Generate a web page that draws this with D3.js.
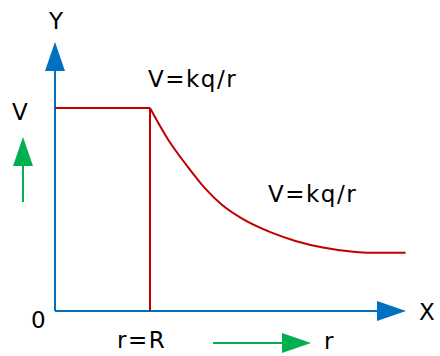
<!DOCTYPE html>
<html>
<head>
<meta charset="utf-8">
<script src="https://cdn.jsdelivr.net/npm/d3@7"></script>
<style>
  html, body { margin: 0; padding: 0; background: #fff; }
  text { font-family: "DejaVu Sans", sans-serif; font-size: 23px; fill: #000; letter-spacing: 1.5px; }
</style>
</head>
<body>
<div id="chart"></div>
<script>
"use strict";

// data: r in units of R, V in units of kq/R
const insideR = [0, 1];
const insideV = [1, 1];
const outsideR = [1.0, 1.19, 1.39, 1.58, 1.76, 1.97, 2.28, 2.54, 2.82, 3.14, 3.32, 3.69];
const outsideV = [1.0, 0.845, 0.715, 0.604, 0.522, 0.455, 0.386, 0.344, 0.313, 0.292, 0.287, 0.287];
const labels = { top: "V=kq/r", curve: "V=kq/r", radius: "r=R", origin: "0", yName: "Y", xName: "X", v: "V", r: "r" };

// consts
const width = 440, height = 356;
const blue = "#0070c0", red = "#c00000", green = "#00b050";

let svg = d3.select("#chart").append("svg")
    .attr("width", width)
    .attr("height", height);

// scales
let scaleX = d3.scaleLinear().domain([0, 3.7]).range([55, 406.5]);
let scaleY = d3.scaleLinear().domain([0, 1]).range([311, 108]);

// arrow helper (tip, direction)
function arrow(g, x, y, dir, color) {
    const len = 29, hw = 10;
    let pts;
    if (dir == "up") pts = [[x, y], [x - hw, y + len], [x + hw, y + len]];
    else pts = [[x, y], [x - len, y - hw], [x - len, y + hw]];
    g.append("path")
    .attr("d", "M" + pts.join("L") + "Z")
    .attr("fill", color);
}

// axes
let axes = svg.append("g");
axes.append("line")
.attr("x1", scaleX(0)).attr("y1", scaleY(0))
.attr("x2", scaleX(0)).attr("y2", 71)
.attr("stroke", blue).attr("stroke-width", 2);
arrow(axes, scaleX(0), 42, "up", blue);
axes.append("line")
.attr("x1", scaleX(0)).attr("y1", scaleY(0))
.attr("x2", 378).attr("y2", scaleY(0))
.attr("stroke", blue).attr("stroke-width", 2);
arrow(axes, 406, scaleY(0), "right", blue);

// potential curve
let line = d3.line()
.x(d => scaleX(d[0]))
.y(d => scaleY(d[1]));

let lineCurve = d3.line()
.x(d => scaleX(d[0]))
.y(d => scaleY(d[1]))
.curve(d3.curveMonotoneX);

svg.append("path")
.attr("d", line(insideR.map((r, i) => [r, insideV[i]])))
.attr("fill", "none").attr("stroke", red).attr("stroke-width", 2);

svg.append("line")
.attr("x1", scaleX(1)).attr("y1", scaleY(1))
.attr("x2", scaleX(1)).attr("y2", scaleY(0))
.attr("stroke", red).attr("stroke-width", 2);

svg.append("path")
.attr("d", lineCurve(outsideR.map((r, i) => [r, outsideV[i]])))
.attr("fill", "none").attr("stroke", red).attr("stroke-width", 2);

// green direction arrows
svg.append("line")
.attr("x1", 23).attr("y1", 202).attr("x2", 23).attr("y2", 165)
.attr("stroke", green).attr("stroke-width", 2);
arrow(svg, 23, 137, "up", green);
svg.append("line")
.attr("x1", 213).attr("y1", 343).attr("x2", 283).attr("y2", 343)
.attr("stroke", green).attr("stroke-width", 2);
arrow(svg, 311, 343, "right", green);

// texts
function label(t, x, y) {
    svg.append("text").attr("x", x).attr("y", y).text(t);
}
label(labels.yName, 49, 29);
label(labels.xName, 419, 320);
label(labels.origin, 31, 328);
label(labels.v, 12, 120);
label(labels.top, 148, 87);
label(labels.curve, 268, 202);
label(labels.radius, 117, 348);
label(labels.r, 324, 349);
</script>
</body>
</html>
